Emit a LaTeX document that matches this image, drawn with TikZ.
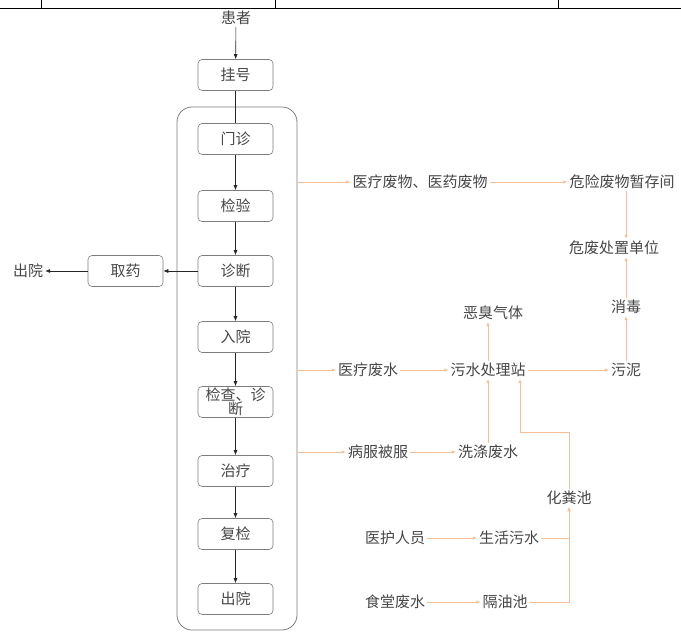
\documentclass[tikz,border=0pt]{standalone}
\usepackage{fontspec}
\newfontfamily\cjk{Noto Sans CJK SC}
\usetikzlibrary{arrows.meta}
\definecolor{lineor}{RGB}{246,190,150}
\definecolor{txt}{RGB}{70,70,70}
\definecolor{boxgray}{RGB}{125,125,125}
\begin{document}
\begin{tikzpicture}[x=1pt,y=-1pt,
  every node/.style={font=\cjk\fontsize{15}{17}\selectfont, text=txt, inner sep=2pt},
  stepbox/.style={draw=boxgray, rounded corners=4pt, minimum width=75pt, minimum height=31pt, line width=0.6pt, inner sep=0pt},
  blk/.style={draw=black!85, line width=0.6pt, -{Latex[length=5pt,width=4pt]}},
  blkn/.style={draw=black!85, line width=0.6pt},
  orl/.style={draw=lineor, line width=0.7pt, -{Latex[length=4pt,width=3.5pt]}},
]
\useasboundingbox (0,0) rectangle (681,632);
% table fragment at top
\draw[black, line width=0.8pt] (0,8) -- (681,8);
\draw[black, line width=0.8pt] (41,0) -- (41,8) (275,0) -- (275,8) (558,0) -- (558,8);
% container
\node[draw=boxgray, line width=0.8pt, rounded corners=15pt, minimum width=120pt, minimum height=523pt, inner sep=0pt] (cont) at (237,368.5) {};
% main column
\node (pat) at (236,18) {患者};
\node[stepbox] (gh) at (235.5,75) {挂号};
\node[stepbox] (mz) at (235.5,139) {门诊};
\node[stepbox] (jy) at (235.5,206) {检验};
\node[stepbox] (zd) at (235.5,271) {诊断};
\node[stepbox] (ry) at (235.5,337) {入院};
\node[stepbox, align=center, font=\cjk\fontsize{15}{14}\selectfont] (jc) at (235.5,402) {检查、诊\\断};
\node[stepbox] (zl) at (235.5,471) {治疗};
\node[stepbox] (fj) at (235.5,534) {复检};
\node[stepbox] (cy) at (235.5,599) {出院};
\node[stepbox] (qy) at (125.5,271) {取药};
\node (out) at (28,271) {出院};
\draw[blk] (pat) -- (gh);
\draw[blkn] (gh) -- (mz);
\draw[blk] (mz) -- (jy);
\draw[blk] (jy) -- (zd);
\draw[blk] (zd) -- (ry);
\draw[blk] (ry) -- (jc);
\draw[blk] (jc) -- (zl);
\draw[blk] (zl) -- (fj);
\draw[blk] (fj) -- (cy);
\draw[blk] (zd) -- (qy);
\draw[blk] (qy) -- (out);
% right side
\node (mw) at (420,182) {医疗废物、医药废物};
\node (store) at (622,182) {危险废物暂存间};
\node (hw) at (614,248) {危废处置单位};
\node (dis) at (626,307) {消毒};
\node (sludge) at (626,370) {污泥};
\node (odor) at (493,313) {恶臭气体};
\node (mww) at (368,370) {医疗废水};
\node (stp) at (488,370) {污水处理站};
\node (bed) at (378,452) {病服被服};
\node (wash) at (488,452) {洗涤废水};
\node (sep) at (569,498) {化粪池};
\node (med) at (395,538) {医护人员};
\node (dom) at (509,538) {生活污水};
\node (cant) at (395,602) {食堂废水};
\node (grease) at (505,602) {隔油池};
\coordinate (k2) at (520,432);
\draw[orl] (cont.east |- mw) -- (mw);
\draw[orl] (mw) -- (store);
\draw[orl] (store.south -| dis) -- (hw.north -| dis);
\draw[orl] (dis) -- (hw.south -| dis);
\draw[orl] (sludge) -- (dis);
\draw[orl] (cont.east |- mww) -- (mww);
\draw[orl] (mww) -- (stp);
\draw[orl] (stp) -- (sludge);
\draw[orl] (stp) -- (stp |- odor.south);
\draw[orl] (cont.east |- bed) -- (bed);
\draw[orl] (bed) -- (wash);
\draw[orl] (wash) -- (stp);
\draw[orl] (sep.north) |- (k2) -- (k2 |- stp.south);
\draw[orl] (med) -- (dom);
\draw[orl] (cant) -- (grease);
\draw[orl] (dom) -| (sep.south);
\draw[orl] (grease) -| (sep.south);
\end{tikzpicture}
\end{document}
